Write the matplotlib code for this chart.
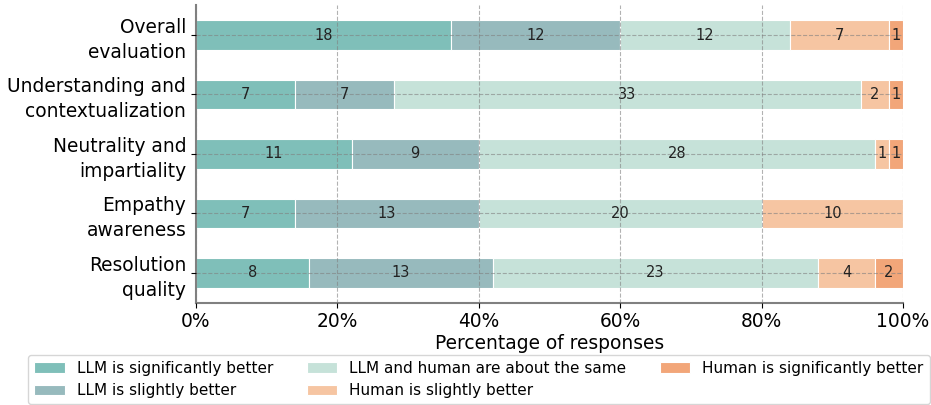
import matplotlib
matplotlib.use("Agg")
import matplotlib.pyplot as plt
import numpy as np

categories = ["Overall\nevaluation", "Understanding and\ncontextualization",
              "Neutrality and\nimpartiality", "Empathy\nawareness", "Resolution\nquality"]
series_names = ["LLM is significantly better", "LLM is slightly better",
                "LLM and human are about the same", "Human is slightly better",
                "Human is significantly better"]
llm_sig = [18, 7, 11, 7, 8]
llm_slight = [12, 7, 9, 13, 13]
same = [12, 33, 28, 20, 23]
human_slight = [7, 2, 1, 10, 4]
human_sig = [1, 1, 1, 0, 2]
colors = ["#7fbfb9", "#97babd", "#c6e2d9", "#f6c5a2", "#f2a679"]

series = [llm_sig, llm_slight, same, human_slight, human_sig]
counts = np.array(series, dtype=float)
totals = counts.sum(axis=0)
pct = counts / totals * 100

fig = plt.figure(figsize=(9.31, 4.05), dpi=100)
ax = fig.add_axes([0.2105, 0.2526, 0.9700 - 0.2105, 0.987 - 0.2526])

y = np.arange(len(categories))
left = np.zeros(len(categories))
for i, name in enumerate(series_names):
    bars = ax.barh(y, pct[i], left=left, height=0.5, color=colors[i],
                   edgecolor="white", linewidth=0.8, label=name, zorder=1)
    for j, b in enumerate(bars):
        if counts[i, j] > 0:
            ax.text(left[j] + pct[i, j] / 2, y[j], f"{int(counts[i, j])}",
                    ha="center", va="center", fontsize=10.5, color="#222222", zorder=3)
    left += pct[i]

ax.set_xlim(0, 100)
ax.set_ylim(len(categories) - 0.5, -0.5)
ax.set_yticks(y)
ax.set_yticklabels(categories, fontsize=13.4, linespacing=1.4)
ax.set_xticks([0, 20, 40, 60, 80, 100])
ax.set_xticklabels(["0%", "20%", "40%", "60%", "80%", "100%"], fontsize=13.4)
ax.set_xlabel("Percentage of responses", fontsize=13.4, labelpad=2)
ax.grid(True, linestyle="--", color="gray", alpha=0.6, linewidth=0.8, zorder=2)
ax.set_axisbelow(False)
for s in ["top", "right"]:
    ax.spines[s].set_visible(False)
for s in ["left", "bottom"]:
    ax.spines[s].set_color("gray")
    ax.spines[s].set_linewidth(1.5)

handles, labels = ax.get_legend_handles_labels()
fig.legend(handles, labels, loc="lower center", ncol=3, fontsize=11,
           bbox_to_anchor=(0.5145, -0.006), frameon=True, columnspacing=2.17,
           handlelength=2.0, borderaxespad=0.2)

fig.savefig("out.png", dpi=100)
